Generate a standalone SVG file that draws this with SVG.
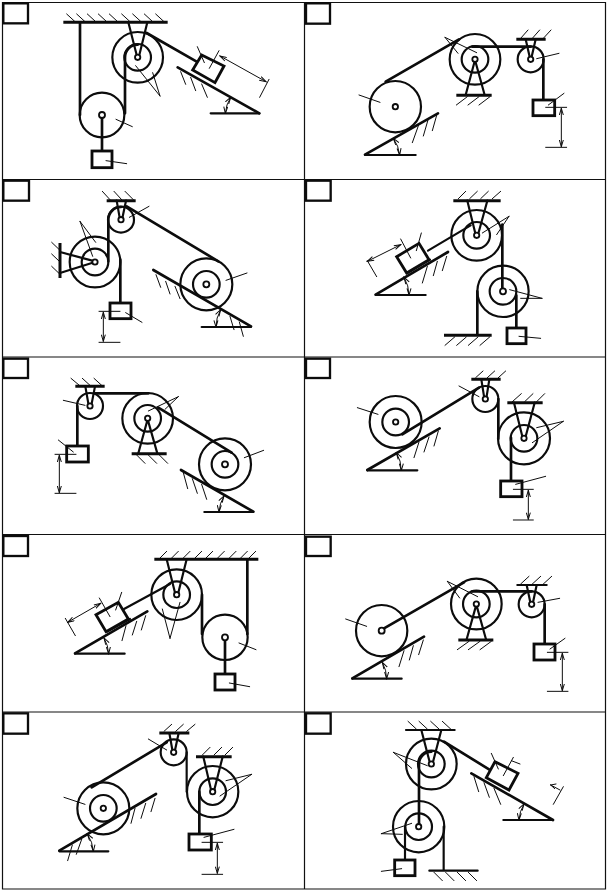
<svg xmlns="http://www.w3.org/2000/svg" width="607" height="890" viewBox="0 0 607 890">
<style>
.p *{fill:none;stroke:#0c0c0c;stroke-linecap:round;stroke-linejoin:round}
.p .t{stroke-width:3}
.p .m{stroke-width:6.500}
.p .n{stroke-width:8}
.p .k{stroke-width:9;stroke-linecap:butt}
.p .x{stroke-width:5.500;fill:#fff}
.p .b{stroke-width:8.500;stroke-linecap:butt;stroke-linejoin:miter;fill:#fff}
.p .l{stroke-width:7;stroke-linecap:butt;stroke-linejoin:miter}
.p .d{stroke-width:3;marker-start:url(#a);marker-end:url(#a)}
#a path{fill:none;stroke:#0c0c0c;stroke-width:3}
</style>
<defs>
<marker id="a" markerUnits="userSpaceOnUse" markerWidth="24" markerHeight="16" refX="21" refY="8" orient="auto-start-reverse"><path d="M1,2 L21,8 L1,14"/></marker>
</defs>
<path d="M2.5,2.5H605.5V889H2.5ZM304.5,2.5V889M2.5,179.500H605.5M2.500,357H605.500M2.500,534.500H605.500M2.500,712H605.500" fill="none" stroke="#111" stroke-width="1.200"/>

<g id="panel-1" class="p" transform="translate(0,0) scale(.33333)">
<rect class="l" x="10" y="10" width="74" height="60"/>
<circle class="m" cx="413" cy="172" r="76"/><circle class="m" cx="413" cy="172" r="40"/>
<circle class="m" cx="306" cy="345" r="67"/>
<path class="k" d="M190,67H503"/>
<path class="t" d="M200,42L225,65M230,42L255,65M262,42L287,65M295,42L320,65M328,42L353,65M365,42L390,65M398,42L423,65M433,42L458,65M467,42L492,65"/>
<path class="m" d="M385,67L410,165M442,67L418,165"/>
<circle class="x" cx="413" cy="172" r="8"/>
<path class="n" d="M240,67V345M375,340V172A38,38 0 0 1 413,134M440,99L590,185M306,345V453"/>
<circle class="x" cx="306" cy="345" r="9"/>
<polygon class="b" points="605,165 672,198 645,248 578,210"/>
<rect class="b" x="276" y="453" width="60" height="50"/>
<path class="n" d="M533,202L778,340"/><path class="m" d="M632,340H778"/>
<path class="t" d="M542,215L557,253M572,232L587,272M605,252L622,292M407,197L480,288M458,218L480,288M348,358L397,380M318,482L380,491M592,140L613,188M657,152L628,205M807,238L779,292"/>
<path class="d" d="M660,168L798,245"/><path class="d" d="M692,292A100,100 0 0 0 676,340"/>
</g>

<g id="panel-2" class="p" transform="translate(304,0) scale(.33333)">
<rect class="l" x="6" y="10" width="72" height="61"/>
<circle class="m" cx="274" cy="320" r="77"/><circle class="x" cx="274" cy="320" r="8"/>
<circle class="m" cx="513" cy="178" r="76"/><circle class="m" cx="513" cy="178" r="40"/>
<circle class="m" cx="680" cy="178" r="39"/>
<path class="n" d="M183,464L402,340M245,245L465,118"/><path class="m" d="M183,465H335"/>
<path class="m" d="M513,180L485,285M513,180L542,285"/><path class="k" d="M457,286H563M637,118H725"/>
<path class="n" d="M505,140H680M718,178V300"/>
<path class="m" d="M665,118L678,175M695,118L682,175"/>
<circle class="x" cx="513" cy="178" r="8"/><circle class="x" cx="680" cy="178" r="8"/>
<rect class="b" x="687" y="300" width="65" height="47"/>
<path class="t" d="M345,372L325,428M372,360L358,408M398,346L385,392M490,290L457,315M525,290L492,315M558,290L525,315M672,90L650,115M707,90L685,115M741,90L718,115M423,112L462,160M423,112L518,158M698,176L765,160M733,315L780,280M165,285L228,307M725,322H788M725,442H788"/>
<path class="d" d="M772,325V440"/><path class="d" d="M268,415A100,100 0 0 1 287,465"/>
</g>

<g id="panel-3" class="p" transform="translate(0,178) scale(.33333)">
<rect class="l" x="10" y="8" width="77" height="60"/>
<circle class="m" cx="285" cy="252" r="76"/><circle class="m" cx="285" cy="252" r="40"/>
<circle class="m" cx="363" cy="125" r="39"/>
<circle class="m" cx="619" cy="319" r="78"/><circle class="m" cx="619" cy="319" r="40"/>
<path class="k" d="M180,195V300M320,68H407"/>
<path class="m" d="M180,222L285,250M180,285L285,252M350,68L360,125M378,68L366,125"/>
<path class="n" d="M325,250V125A38,38 0 0 1 363,87M380,85L655,250M361,245V375M460,276L753,445"/>
<path class="m" d="M605,447H753"/>
<circle class="x" cx="285" cy="252" r="8"/><circle class="x" cx="363" cy="125" r="8"/><circle class="x" cx="619" cy="319" r="9"/>
<rect class="b" x="330" y="375" width="63" height="47"/>
<path class="t" d="M155,193L178,215M155,228L178,250M155,265L178,287M307,40L330,65M342,40L365,65M375,40L400,65M468,290L482,328M497,310L510,348M525,325L540,362M690,415L702,455M718,432L730,475M240,130L287,193M240,130L278,235M388,118L447,85M678,307L741,285M377,404L426,433M297,400H360M297,493H360"/>
<path class="d" d="M310,403V490"/><path class="d" d="M662,395A100,100 0 0 0 648,447"/>
</g>

<g id="panel-4" class="p" transform="translate(304,178) scale(.33333)">
<rect class="l" x="6" y="8" width="74" height="60"/>
<circle class="m" cx="518" cy="172" r="76"/><circle class="m" cx="518" cy="172" r="40"/>
<circle class="m" cx="597" cy="340" r="77"/><circle class="m" cx="597" cy="340" r="40"/>
<path class="k" d="M448,68H590M420,472H563"/>
<path class="m" d="M490,68L515,170M550,68L522,170M372,218L500,142"/>
<path class="n" d="M595,140V340M520,340V470M637,352V450M215,350L432,222"/>
<path class="m" d="M215,351H365M310,285L378,245"/>
<circle class="x" cx="518" cy="172" r="8"/><circle class="x" cx="597" cy="340" r="9"/>
<rect class="b" x="609" y="450" width="57" height="47"/>
<polygon class="b" points="278,236 345,196 375,245 308,285"/>
<path class="t" d="M463,62L485,40M497,62L520,40M530,62L553,40M565,62L590,40M423,502L452,477M458,502L487,477M493,502L522,477M528,502L557,477M370,265L355,315M400,250L388,293M428,235L415,278M352,165L337,218M290,183L320,240M615,115L535,165M615,115L578,170M617,335L714,361M650,361H714M645,475L710,481M190,248L218,296"/>
<path class="d" d="M190,250L290,200"/><path class="d" d="M300,298A100,100 0 0 1 315,351"/>
</g>

<g id="panel-5" class="p" transform="translate(0,356) scale(.33333)">
<rect class="l" x="10" y="8" width="74" height="58"/>
<circle class="m" cx="270" cy="150" r="39"/>
<circle class="m" cx="443" cy="187" r="76"/><circle class="m" cx="443" cy="187" r="40"/>
<circle class="m" cx="675" cy="325" r="78"/><circle class="m" cx="675" cy="325" r="40"/>
<path class="k" d="M226,91H314M395,293H500"/>
<path class="m" d="M256,91L266,148M285,91L274,148M443,190L415,292M443,190L472,292"/>
<path class="n" d="M285,112H445M232,150V270M475,155L695,290M543,342L760,467"/><path class="m" d="M613,468H760"/>
<circle class="x" cx="270" cy="150" r="8"/><circle class="x" cx="443" cy="187" r="8"/><circle class="x" cx="675" cy="325" r="9"/>
<rect class="b" x="200" y="270" width="65" height="48"/>
<path class="t" d="M213,67L238,88M247,67L270,88M282,67L305,88M410,297L435,322M445,297L470,322M478,297L503,322M550,350L563,398M577,368L592,412M605,385L620,430M190,133L255,148M175,252L220,288M535,122L445,165M535,122L495,160M733,305L791,283M165,295H228M165,412H228"/>
<path class="d" d="M178,298V410"/><path class="d" d="M672,420A100,100 0 0 0 657,468"/>
</g>

<g id="panel-6" class="p" transform="translate(304,356) scale(.33333)">
<rect class="l" x="6" y="8" width="72" height="58"/>
<circle class="m" cx="275" cy="198" r="78"/><circle class="m" cx="275" cy="198" r="40"/>
<circle class="m" cx="544" cy="129" r="39"/>
<circle class="m" cx="660" cy="247" r="78"/><circle class="m" cx="660" cy="247" r="40"/>
<path class="k" d="M502,70H590M610,140H716"/>
<path class="m" d="M532,70L541,127M556,70L547,127M630,140L656,245M692,140L664,245M190,343H340"/>
<path class="n" d="M190,342L407,217M295,235L525,95M583,129V248M621,245V375"/>
<circle class="x" cx="275" cy="198" r="8"/><circle class="x" cx="544" cy="129" r="8"/><circle class="x" cx="660" cy="247" r="8"/>
<rect class="b" x="590" y="375" width="64" height="47"/>
<path class="t" d="M345,258L330,305M375,243L360,288M403,225L390,270M515,65L537,45M550,65L572,45M583,65L605,45M625,137L652,113M662,137L687,113M698,137L722,113M160,155L222,175M465,90L525,122M778,196L698,215M778,196L685,260M635,385L725,361M628,400H688M628,492H688"/>
<path class="d" d="M673,403V490"/><path class="d" d="M277,290A100,100 0 0 1 292,343"/>
</g>

<g id="panel-7" class="p" transform="translate(0,534) scale(.33333)">
<rect class="l" x="10" y="6" width="74" height="60"/>
<circle class="m" cx="530" cy="182" r="76"/><circle class="m" cx="530" cy="182" r="40"/>
<circle class="m" cx="675" cy="310" r="68"/>
<path class="k" d="M463,76H775"/>
<path class="m" d="M500,76L526,180M560,76L534,180M372,225L510,150M225,359H374"/>
<path class="n" d="M606,182V300M742,76V300M675,320V420M225,358L442,232"/>
<circle class="x" cx="530" cy="182" r="8"/><circle class="x" cx="675" cy="310" r="9"/>
<rect class="b" x="645" y="420" width="60" height="48"/>
<polygon class="b" points="288,242 355,205 385,255 318,293"/>
<path class="m" d="M322,293L390,255"/>
<path class="t" d="M480,72L500,52M515,72L535,52M550,72L570,52M585,72L605,52M618,72L638,52M653,72L673,52M688,72L708,52M722,72L742,52M747,72L767,52M378,275L366,320M410,262L397,303M437,245L424,288M365,175L347,228M298,192L330,248M487,225L510,313M540,205L510,313M717,327L768,347M688,447L749,458M196,253L226,305"/>
<path class="d" d="M203,265L302,208"/><path class="d" d="M312,312A100,100 0 0 1 326,359"/>
</g>

<g id="panel-8" class="p" transform="translate(304,534) scale(.33333)">
<rect class="l" x="6" y="8" width="74" height="58"/>
<circle class="m" cx="233" cy="290" r="77"/>
<circle class="m" cx="517" cy="210" r="76"/><circle class="m" cx="517" cy="210" r="40"/>
<circle class="m" cx="683" cy="211" r="39"/>
<path class="k" d="M463,318H568"/><path class="m" d="M640,153H728"/>
<path class="m" d="M517,212L488,316M517,212L546,316M668,153L680,210M698,153L686,210M145,434H293"/>
<path class="n" d="M240,283L480,145M145,433L360,308M505,172H683M722,211V330"/>
<circle class="x" cx="233" cy="290" r="9"/><circle class="x" cx="517" cy="210" r="8"/><circle class="x" cx="683" cy="211" r="8"/>
<rect class="b" x="690" y="330" width="63" height="48"/>
<path class="t" d="M300,350L285,398M328,335L316,378M358,318L344,362M495,322L460,347M528,322L493,347M562,322L528,347M675,127L650,150M710,127L685,150M743,127L718,150M430,142L467,192M430,142L521,188M702,205L767,193M738,345L783,313M125,255L188,277M730,355H792M730,472H792"/>
<path class="d" d="M775,358V470"/><path class="d" d="M235,385A100,100 0 0 1 248,434"/>
</g>

<g id="panel-9" class="p" transform="translate(0,710) scale(.33333)">
<rect class="l" x="10" y="10" width="74" height="61"/>
<circle class="m" cx="310" cy="295" r="78"/><circle class="m" cx="310" cy="295" r="40"/>
<circle class="m" cx="521" cy="127" r="39"/>
<circle class="m" cx="638" cy="245" r="77"/><circle class="m" cx="638" cy="245" r="40"/>
<path class="k" d="M478,69H568M588,140H695"/>
<path class="m" d="M508,69L518,125M536,69L524,125M610,140L634,243M668,140L642,243M560,127V245M178,424H325"/>
<path class="n" d="M275,232L500,97M178,422L468,252M598,245V372"/>
<circle class="x" cx="310" cy="295" r="8"/><circle class="x" cx="521" cy="127" r="8"/><circle class="x" cx="638" cy="245" r="8"/>
<rect class="b" x="567" y="372" width="67" height="48"/>
<path class="t" d="M217,405L203,452M245,388L229,433M405,295L393,340M437,280L423,325M465,265L453,305M492,64L515,43M527,64L550,43M560,64L585,43M607,135L630,112M642,135L665,112M675,135L698,112M445,87L500,120M755,193L678,212M755,193L660,258M192,262L255,283M612,382L702,358M606,397H668M606,493H668"/>
<path class="d" d="M652,400V490"/><path class="d" d="M262,372A100,100 0 0 1 280,424"/>
</g>

<g id="panel-10" class="p" transform="translate(304,710) scale(.33333)">
<rect class="l" x="6" y="10" width="74" height="61"/>
<circle class="m" cx="382" cy="162" r="76"/><circle class="m" cx="382" cy="162" r="40"/>
<circle class="m" cx="344" cy="350" r="77"/><circle class="m" cx="344" cy="350" r="40"/>
<path class="m" d="M306,60H452M376,482H521M352,60L378,160M412,60L386,160M303,350V450M419,350V480M598,330H747"/>
<path class="n" d="M345,350V162A37,37 0 0 1 382,125M420,95L555,178M502,190L747,330"/>
<circle class="x" cx="382" cy="162" r="8"/><circle class="x" cx="344" cy="350" r="8"/>
<polygon class="b" points="573,155 642,190 615,240 547,203"/>
<rect class="b" x="272" y="450" width="61" height="47"/>
<path class="t" d="M312,34L337,57M345,34L370,57M380,34L405,57M415,34L440,57M390,487L415,512M425,487L450,512M460,487L485,512M493,487L518,512M510,200L524,245M540,218L556,262M570,235L590,283M268,127L323,175M268,127L370,167M232,371L323,340M232,371L295,373M232,484L293,476M562,130L583,177M628,142L598,197M778,230L748,283M648,162L622,152M740,225L768,240M740,225L756,222M740,225L752,236"/>
<path class="d" d="M660,282A100,100 0 0 0 645,330"/>
</g>
</svg>
